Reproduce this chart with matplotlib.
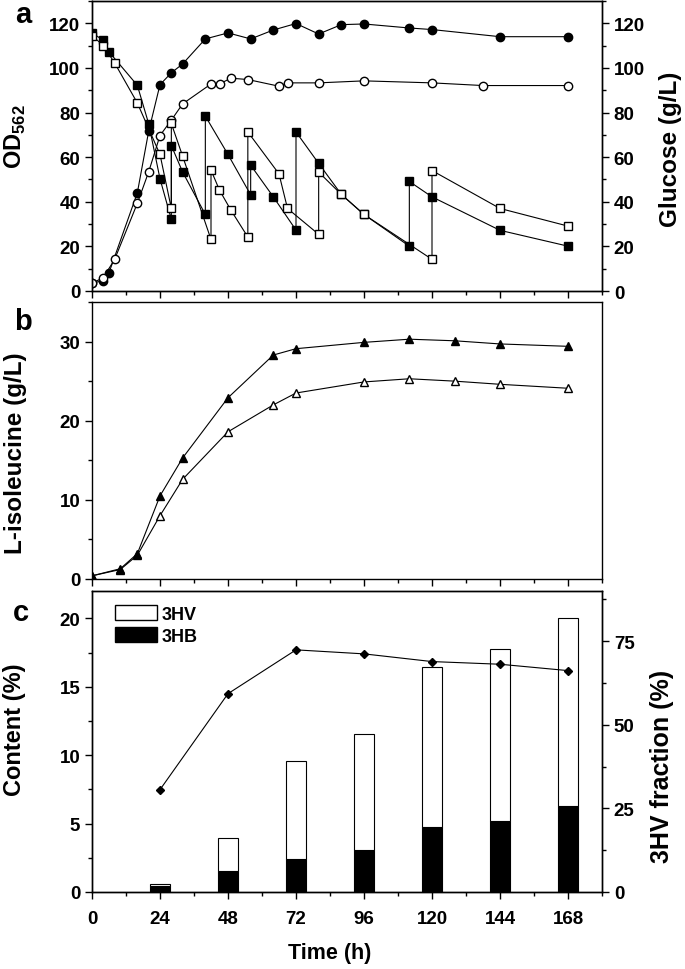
import numpy as np
import matplotlib.pyplot as plt
from matplotlib.ticker import MultipleLocator
from matplotlib.patches import Patch

plt.rcParams['font.family'] = ['Liberation Sans', 'DejaVu Sans']
plt.rcParams['font.weight'] = 'bold'
plt.rcParams['mathtext.fontset'] = 'custom'
plt.rcParams['mathtext.rm'] = 'Liberation Sans:bold'
plt.rcParams['mathtext.bf'] = 'Liberation Sans:bold'
plt.rcParams['axes.linewidth'] = 1.0

#%% data
# panel a : OD562
t_od1 = [0, 4, 6, 16, 20, 24, 28, 32, 40, 48, 56, 64, 72, 80, 88, 96, 112, 120, 144, 168]
od1 = [3.7, 4.5, 8.2, 44, 71.6, 92.5, 97.8, 101.8, 113, 115.7, 113, 117, 119.9, 115.2, 119.4,
       119.7, 117.9, 117.2, 114, 114]
t_od2 = [0, 4, 8, 16, 20, 24, 28, 32, 42, 45, 49, 55, 66, 69, 80, 96, 120, 138, 168]
od2 = [3.5, 6, 14.2, 39.3, 53.4, 69.7, 76.6, 83.9, 92.8, 92.8, 95.4, 94.8, 91.8, 93.3, 93.3,
       94.2, 93.3, 92.1, 92.1]
# panel a : glucose (feeding -> vertical jumps)
t_glc1 = [0, 4, 6, 16, 20, 24, 28, 28, 32, 40, 40, 48, 56, 56, 64, 72, 72, 80, 88, 96, 112, 112,
          120, 144, 168]
glc1 = [115.7, 112.4, 107.2, 92.2, 75, 50.3, 32.1, 65.2, 53.3, 34.3, 78.4, 61.2, 43.1, 56.4, 42.2,
        27.3, 71.3, 57.2, 43.3, 34.3, 20.1, 49.1, 42.2, 27.2, 20.1]
t_glc2 = [0, 4, 8, 16, 24, 28, 28, 32, 42, 42, 45, 49, 55, 55, 66, 69, 80, 80, 88, 96, 120, 120,
          144, 168]
glc2 = [114.5, 110, 102.2, 84.3, 61.2, 37, 75.1, 60.4, 23.1, 54.2, 45.2, 36.3, 24.2, 71.3, 52.5,
        37, 25.4, 53.3, 43.3, 34.3, 14.2, 54, 37, 29.1]

# panel b : L-isoleucine
t_ile = [0, 10, 16, 24, 32, 48, 64, 72, 96, 112, 128, 144, 168]
ile1 = [0.4, 1.3, 3.2, 10.5, 15.3, 22.9, 28.3, 29.1, 29.9, 30.3, 30.1, 29.7, 29.4]
ile2 = [0.4, 1.2, 3.0, 8.0, 12.6, 18.6, 22.0, 23.5, 24.9, 25.3, 25.0, 24.6, 24.1]

# panel c : PHBV content
t_pha = [24, 48, 72, 96, 120, 144, 168]
total = [0.6, 3.94, 9.55, 11.54, 16.48, 17.76, 20.02]
hb = [0.41, 1.5, 2.43, 3.04, 4.74, 5.22, 6.25]
hv_frac = [30.6, 59.3, 72.4, 71.2, 68.9, 68.1, 66.2]
hv = [a - b for a, b in zip(total, hb)]

#%% figure
W, H = 685, 970
fig = plt.figure(figsize=(W / 100, H / 100), dpi=100)


def box(l, r, t, b):
    return [l / W, 1 - b / H, (r - l) / W, (b - t) / H]


def style(ax):
    ax.tick_params(which='major', direction='out', length=5, width=1, labelsize=13.5)
    ax.tick_params(which='minor', direction='out', length=3, width=1)


lw = 0.8
ms = 6

# panel a
ax1 = fig.add_axes(box(92, 602, 2, 292))
ax1.plot(t_od1, od1, '-o', color='k', mfc='k', mec='k', ms=ms, lw=lw)
ax1.plot(t_od2, od2, '-o', color='k', mfc='white', mec='k', ms=ms, lw=lw)
ax1.set_xlim(0, 180)
ax1.set_ylim(0, 130)
ax1.set_yticks(range(0, 121, 20))
ax1.yaxis.set_minor_locator(MultipleLocator(10))
ax1.xaxis.set_major_locator(MultipleLocator(24))
ax1.xaxis.set_minor_locator(MultipleLocator(12))
ax1.tick_params(labelbottom=False)
style(ax1)
ax1r = ax1.twinx()
ax1r.plot(t_glc1, glc1, '-s', color='k', mfc='k', mec='k', ms=5.5, lw=lw)
ax1r.plot(t_glc2, glc2, '-s', color='k', mfc='white', mec='k', ms=5.5, lw=lw)
ax1r.set_ylim(0, 130)
ax1r.set_yticks(range(0, 121, 20))
ax1r.yaxis.set_minor_locator(MultipleLocator(10))
style(ax1r)

# panel b
ax2 = fig.add_axes(box(92, 602, 303, 580))
ax2.plot(t_ile, ile2, '-^', color='k', mfc='white', mec='k', ms=ms, lw=lw)
ax2.plot(t_ile, ile1, '-^', color='k', mfc='k', mec='k', ms=ms, lw=lw)
ax2.set_xlim(0, 180)
ax2.set_ylim(0, 35)
ax2.set_yticks([0, 10, 20, 30])
ax2.yaxis.set_minor_locator(MultipleLocator(5))
ax2.xaxis.set_major_locator(MultipleLocator(24))
ax2.xaxis.set_minor_locator(MultipleLocator(12))
ax2.tick_params(labelbottom=False)
style(ax2)

# panel c
ax3 = fig.add_axes(box(92, 602, 592, 893))
bw = 7.4
ax3.bar(t_pha, hb, width=bw, color='k', edgecolor='k', lw=0.8)
ax3.bar(t_pha, hv, width=bw, bottom=hb, color='white', edgecolor='k', lw=0.8)
ax3.set_xlim(0, 180)
ax3.set_ylim(0, 22)
ax3.set_yticks([0, 5, 10, 15, 20])
ax3.yaxis.set_minor_locator(MultipleLocator(2.5))
ax3.set_xticks([0, 24, 48, 72, 96, 120, 144, 168])
ax3.xaxis.set_minor_locator(MultipleLocator(12))
style(ax3)
ax3.tick_params(axis='x', pad=8)
ax3.legend(handles=[Patch(facecolor='white', edgecolor='k', label='3HV'),
                    Patch(facecolor='k', edgecolor='k', label='3HB')],
           loc='upper left', bbox_to_anchor=(23 / 510, (893 - 606) / 301), frameon=False,
           borderpad=0, borderaxespad=0,
           handlelength=2.3, handleheight=0.9, handletextpad=0.3, labelspacing=0.25,
           prop={'size': 13, 'weight': 'bold'})
ax3r = ax3.twinx()
ax3r.plot(t_pha, hv_frac, '-D', color='k', mfc='k', mec='k', ms=4, lw=lw)
ax3r.set_ylim(0, 90)
ax3r.set_yticks([0, 25, 50, 75])
ax3r.yaxis.set_minor_locator(MultipleLocator(12.5))
style(ax3r)

# labels
def ftext(x, y, s, **kw):
    fig.text(x / W, 1 - y / H, s, ha='center', va='center', fontweight='bold', **kw)


ftext(23, 15, 'a', size=21)
ftext(23, 322, 'b', size=21)
ftext(21, 613, 'c', size=21)
ftext(15, 137, r'OD$_{562}$', size=17, rotation=90)
ftext(670, 149, 'Glucose (g/L)', size=17.5, rotation=90)
ftext(16, 453, 'L-isoleucine (g/L)', size=17.5, rotation=90)
ftext(15, 730, 'Content (%)', size=17, rotation=90)
ftext(662, 766, '3HV fraction (%)', size=18, rotation=90)
ftext(330, 954, 'Time (h)', size=15.5)

plt.savefig('out.png', dpi=100)
